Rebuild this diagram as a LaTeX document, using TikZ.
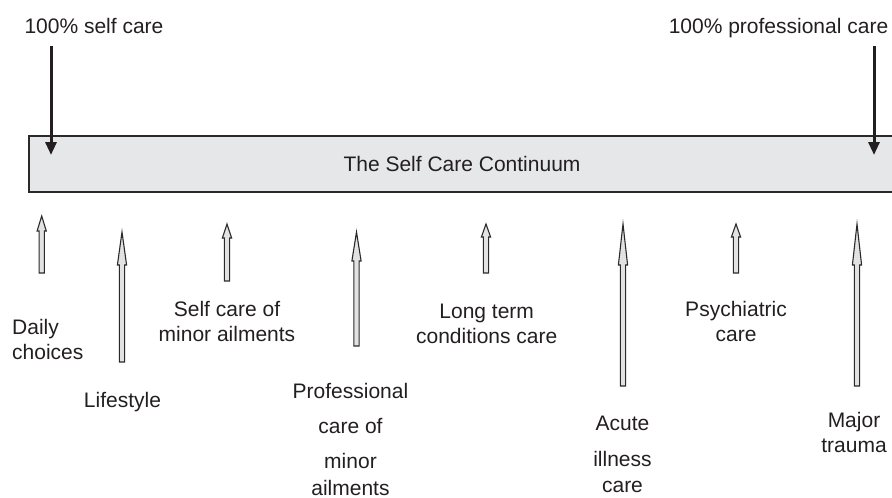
\documentclass[tikz,border=0pt]{standalone}
\usepackage{fontspec}
\setmainfont{Liberation Sans}
\usetikzlibrary{arrows.meta}
\definecolor{barfill}{HTML}{E6E7E9}
\definecolor{edgegray}{HTML}{2A2A2A}
\definecolor{inkgray}{HTML}{231F20}
\definecolor{shaftfill}{HTML}{E2E2E2}

% hollow upward arrow: x, bottom y, tip y, head length
\newcommand{\carearrow}[4]{%
  \draw[hollowarrow]
    (#1-2.6,#2) -- (#1-2.6,#3+#4) -- (#1-4.6,#3+#4) -- (#1,#3)
    -- (#1+4.6,#3+#4) -- (#1+2.6,#3+#4) -- (#1+2.6,#2) -- cycle;}

\begin{document}
\begin{tikzpicture}[x=1pt,y=-1pt,
  lbl/.style={font=\fontsize{21}{25}\selectfont, inner sep=0pt, align=center, text=inkgray},
  barbox/.style={draw=edgegray, line width=1.4pt, fill=barfill, inner sep=0pt,
    minimum width=866pt, minimum height=56pt, text=inkgray,
    font=\fontsize{21}{25}\selectfont},
  endarrow/.style={draw=inkgray, line width=3pt, -{Triangle[length=13pt,width=11pt]}},
  hollowarrow/.style={draw=edgegray, line width=1.1pt, fill=shaftfill, line join=miter}]
\useasboundingbox (0,0) rectangle (892,498);

% the continuum bar
\node[barbox] (bar) at (462,164) {The Self Care Continuum};

% the two extremes
\node[lbl, anchor=base] (selfall) at (94,33) {100\% self care};
\node[lbl, anchor=base] (profall) at (778.5,33) {100\% professional care};
\coordinate (selfstart) at (51,46);
\coordinate (selfend) at (51,155);
\coordinate (profstart) at (874,46);
\coordinate (profend) at (874,155);
\draw[endarrow] (selfstart) -- (selfend);
\draw[endarrow] (profstart) -- (profend);

% arrows along the continuum
\carearrow{41.7}{273}{216}{15}
\carearrow{122}{362}{232}{33}
\carearrow{227}{281}{224}{14}
\carearrow{356.5}{346}{232}{29}
\carearrow{486}{273}{224}{13}
\carearrow{623}{386}{224}{41}
\carearrow{736}{273}{224}{13}
\carearrow{857}{386}{224}{41}

% labels of the kinds of care
\node[lbl, align=left, anchor=north west] (daily) at (12,319) {Daily\\choices};
\node[lbl, anchor=base] (lifestyle) at (122.5,407) {Lifestyle};
\node[lbl, anchor=north] (selfminor) at (227,301) {Self care of\\minor ailments};
\node[lbl, anchor=north] (profminor) at (350.5,383) {Professional\\[10pt]care of\\[10pt]minor\\[2pt]ailments};
\node[lbl, anchor=north] (longterm) at (486.7,304) {Long term\\conditions care};
\node[lbl, anchor=north] (acute) at (622.5,416) {Acute\\[11pt]illness\\[1pt]care};
\node[lbl, anchor=north] (psych) at (736,301) {Psychiatric\\care};
\node[lbl, anchor=north] (major) at (854,412) {Major\\trauma};
\end{tikzpicture}
\end{document}
